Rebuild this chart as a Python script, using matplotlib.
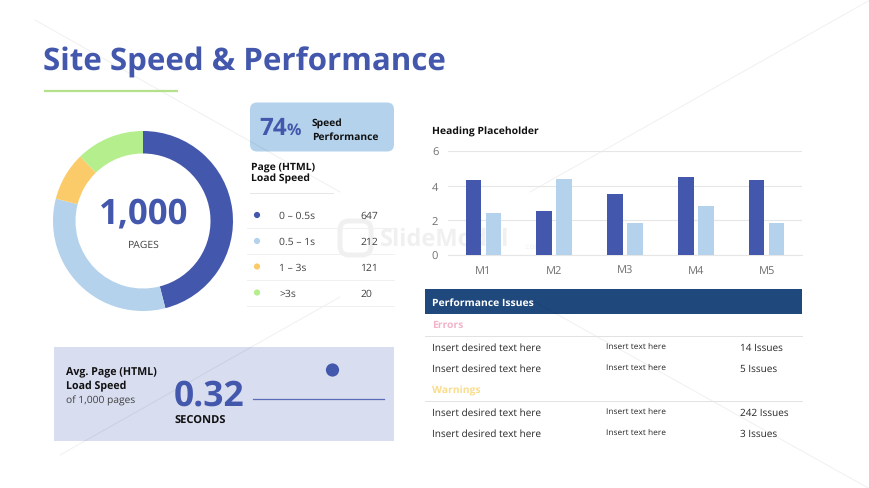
import matplotlib
matplotlib.use("Agg")
import matplotlib.pyplot as plt
from matplotlib.patches import FancyBboxPatch, Rectangle, Circle
import numpy as np

plt.rcParams['font.family'] = ['Open Sans', 'Noto Sans', 'DejaVu Sans']
plt.rcParams['text.hinting'] = 'no_hinting'

W, H = 870, 489
DY = 1
DARK = '#4358AC'
LIGHT = '#B4D2EC'
ORANGE = '#FBCB6A'
GREEN = '#B5EE8C'
NAVY = '#1F497D'
INK = '#111111'
GREY = '#404040'

share_labels = ['0 – 0.5s', '0.5 – 1s', '1 – 3s', '>3s']
share_counts = ['647', '212', '121', '20']
donut_shares = [46.0, 33.0, 8.7, 12.3]
donut_colors = [DARK, LIGHT, ORANGE, GREEN]

months = ['M1', 'M2', 'M3', 'M4', 'M5']
series_a = [4.3, 2.5, 3.5, 4.5, 4.3]
series_b = [2.4, 4.4, 1.8, 2.8, 1.8]
y_ticks = [0, 2, 4, 6]

error_rows = [('Insert desired text here', 'Insert text here', '14 Issues'),
              ('Insert desired text here', 'Insert text here', '5 Issues')]
warning_rows = [('Insert desired text here', 'Insert text here', '242 Issues'),
                ('Insert desired text here', 'Insert text here', '3 Issues')]

fig = plt.figure(figsize=(W / 100, H / 100), dpi=100, facecolor='white')
bg = fig.add_axes([0, 0, 1, 1])
bg.set_xlim(0, W)
bg.set_ylim(H - DY, -DY)
bg.axis('off')

def px_axes(x0, y0, x1, y1):
    return fig.add_axes([x0 / W, 1 - (y1 + DY) / H, (x1 - x0) / W, (y1 - y0) / H])

def T(x, y, s, size, color=INK, weight='normal', ha='left', va='center', **kw):
    return bg.text(x, y + 1, s, fontsize=size, color=color, fontweight=weight, ha=ha, va=va, **kw)

# faint background diagonals
for (a, b, c, d) in [(35, 20, 340, 192), (340, 297, 60, 455), (535, 302, 870, 489),
                     (530, 192, 870, 0)]:
    bg.plot([a, c], [b, d], color='black', alpha=0.055, lw=0.8, zorder=1.5)

# watermark
T(380, 238, 'SlideModel', 17, color='#F0F0F0', weight='bold', zorder=0.5)
T(524, 245, '.com', 5.5, color='#F0F0F0', zorder=0.5)
bg.add_patch(FancyBboxPatch((340, 221), 31, 34, boxstyle='round,pad=0,rounding_size=9',
                            fc='none', ec='#F0F0F0', lw=3.5, zorder=0.5))

# title
T(43, 60, 'Site Speed & Performance', 22.5, color=DARK, weight='bold')
bg.plot([44, 178], [90.5, 90.5], color='#B5E08C', lw=1.6, solid_capstyle='butt')

# donut
dax = px_axes(53, 131, 233, 311)
dax.pie(donut_shares, colors=donut_colors, startangle=90, counterclock=False,
        radius=1.0, wedgeprops=dict(width=0.25, linewidth=0))
dax.set_xlim(-1, 1)
dax.set_ylim(-1, 1)
T(144, 212, '1,000', 25, color=DARK, weight='bold', ha='center')
T(144, 243, 'PAGES', 7.5, color=GREY, ha='center')

# 74% card
bg.add_patch(FancyBboxPatch((250, 102.5), 144, 49, boxstyle='round,pad=0,rounding_size=7',
                            fc=LIGHT, ec='none'))
T(259, 127, '74', 17.5, color=DARK, weight='bold')
T(287, 129, '%', 11.5, color=DARK, weight='bold')
T(312, 122, 'Speed', 7.4, weight='bold')
T(312, 135, 'Performance', 7.4, weight='bold')

# legend table
T(251, 164.5, 'Page (HTML)', 7.5, weight='bold')
T(251, 177.5, 'Load Speed', 7.5, weight='bold')
bg.plot([250, 333], [193, 193], color='#E6E6E6', lw=0.7)
row_y = [215, 241, 266.5, 292.5]
for y, c, lab, n in zip(row_y, donut_colors, share_labels, share_counts):
    bg.add_patch(Circle((257, y), 3.1, fc=c, ec='none'))
    T(279, y - 0.5, lab, 7.5, color=GREY)
    T(360, y - 0.5, n, 7.5, color=GREY)
    bg.plot([247, 394], [y + 13, y + 13], color='#F0F0F0', lw=0.7)

# avg card
bg.add_patch(Rectangle((54.5, 346.5), 339.5, 94, fc='#D8DDF0', ec='none'))
T(66.5, 371, 'Avg. Page (HTML)', 7.7, weight='bold')
T(66.5, 384, 'Load Speed', 7.7, weight='bold')
T(66.5, 399, 'of 1,000 pages', 7.4, color=GREY)
T(173.5, 394, '0.32', 25.5, color=DARK, weight='bold')
T(174, 419, 'SECONDS', 8, weight='bold')
bg.plot([253, 384], [399, 399], color='#5A6DB8', lw=0.9)
bg.add_patch(Circle((332.5, 370), 6.6, fc=DARK, ec='none'))

# bar chart
T(432, 130, 'Heading Placeholder', 7.5, weight='bold')
cax = px_axes(448, 151, 802, 254.5)
x = np.arange(len(months))
cax.bar(x - 0.141, series_a, 0.222, color=DARK, zorder=3)
cax.bar(x + 0.141, series_b, 0.222, color=LIGHT, zorder=3)
cax.set_xlim(-0.5, 4.5)
cax.set_ylim(0, 6)
cax.set_yticks(y_ticks)
cax.set_xticks(x, months)
cax.grid(axis='y', color='#E6E6E6', lw=0.8, zorder=0)
cax.set_axisbelow(True)
cax.patch.set_alpha(0)
for s in cax.spines.values():
    s.set_visible(False)
cax.spines['bottom'].set_visible(True)
cax.spines['bottom'].set_color('#E6E6E6')
cax.tick_params(axis='both', length=0, labelsize=8, labelcolor='#707070')
cax.tick_params(axis='x', pad=7)
cax.tick_params(axis='y', pad=7)

# issues table
bg.add_patch(Rectangle((425, 288.5), 377, 25.5, fc=NAVY, ec='none'))
T(432, 301, 'Performance Issues', 7.5, color='white', weight='bold')
T(432, 323.5, 'Errors', 7.5, color='#F2B4C6', weight='bold')
bg.plot([425, 802], [335.5, 335.5], color='#E2E2E2', lw=0.7)
T(432, 389, 'Warnings', 7.5, color='#F9DC8C', weight='bold')
bg.plot([425, 802], [401, 401], color='#E2E2E2', lw=0.7)
for rows, ys in [(error_rows, (346, 367.5)), (warning_rows, (411, 432.5))]:
    for (a, b, c), y in zip(rows, ys):
        T(432, y, a, 7.2, color='#262626')
        T(606, y - 1.5, b, 6, color='#262626')
        T(740, y, c, 7.2, color='#262626')

fig.savefig('out.png', dpi=100, facecolor='white')
